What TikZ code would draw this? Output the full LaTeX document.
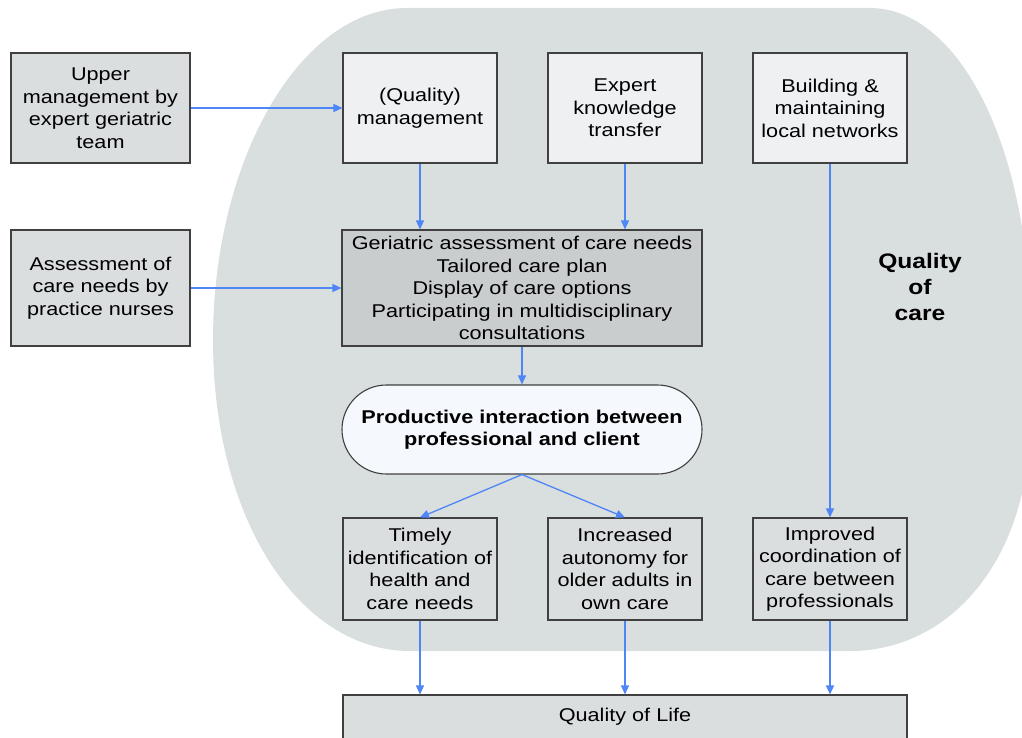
\documentclass[tikz,border=0pt]{standalone}
\usepackage{fontspec}
\setmainfont{Liberation Sans}[FakeStretch=1.17]
\usetikzlibrary{arrows.meta}

\definecolor{blobgray}{HTML}{D9DEDF}
\definecolor{lightbox}{HTML}{EEF0F2}
\definecolor{midbox}{HTML}{DADEDF}
\definecolor{darkbox}{HTML}{C9CDCE}
\definecolor{pillfill}{HTML}{F5F8FC}
\definecolor{arrowblue}{HTML}{4F86F7}
\definecolor{edgegray}{HTML}{404040}

\tikzset{
  base/.style={draw=edgegray, line width=1.1pt, inner sep=0pt, align=center,
    font=\fontsize{18.5}{22.5}\selectfont},
  topbox/.style={base, fill=lightbox, minimum width=154pt, minimum height=110pt},
  sidebox/.style={base, fill=midbox, minimum width=179pt},
  outbox/.style={base, fill=midbox, minimum width=154pt, minimum height=102pt},
  flow/.style={draw=arrowblue, line width=1.3pt, -{Triangle[length=9pt,width=8pt]}},
}

\begin{document}
\begin{tikzpicture}[x=1pt,y=-1pt]
\useasboundingbox (0,0) rectangle (1022,738);

% quality-of-care region
\fill[blobgray] (213,340)
  .. controls (213,160) and (300,8) .. (407,8)
  -- (870,8)
  .. controls (960,8) and (1030,150) .. (1030,330)
  -- (1030,420)
  .. controls (1030,560) and (950,651) .. (850,651)
  -- (410,651)
  .. controls (300,651) and (213,520) .. (213,340) -- cycle;

% inputs
\node[sidebox, minimum height=110pt] (upper) at (100.5,108)
  {Upper\\management by\\expert geriatric\\team};
\node[sidebox, minimum height=116pt] (nurses) at (100.5,288)
  {Assessment of\\care needs by\\practice nurses};

% top row
\node[topbox] (qm) at (420,108) {(Quality)\\management};
\node[topbox] (ekt) at (625,108) {Expert\\knowledge\\transfer};
\node[topbox] (net) at (830,108) {Building \&\\maintaining\\local networks};

% core activities
\node[base, fill=darkbox, minimum width=360pt, minimum height=116pt] (core) at (522,288)
  {Geriatric assessment of care needs\\Tailored care plan\\Display of care options\\Participating in multidisciplinary\\consultations};

\node[base, fill=pillfill, minimum width=360pt, minimum height=89pt, rounded corners=44.5pt,
  font=\bfseries\fontsize{18.5}{22.5}\selectfont] (pi) at (522,429.5)
  {Productive interaction between\\professional and client};

% outcomes
\node[outbox] (timely) at (420,569) {Timely\\identification of\\health and\\care needs};
\node[outbox] (auto) at (625,569) {Increased\\autonomy for\\older adults in\\own care};
\node[outbox] (coord) at (830,569) {Improved\\coordination of\\care between\\professionals};

\node[base, fill=midbox, minimum width=564pt, minimum height=44pt] (qol) at (625,717) {Quality of Life};

\node[align=center, font=\bfseries\fontsize{21}{26}\selectfont] (qoc) at (920,287) {Quality\\of\\care};

% connectors
\draw[flow] (upper.east) -- (qm.west);
\draw[flow] (nurses.east) -- (core.west);
\draw[flow] (qm.south) -- (qm.south |- core.north);
\draw[flow] (ekt.south) -- (ekt.south |- core.north);
\draw[flow] (core.south) -- (pi.north);
\draw[flow] (pi.south) -- (timely.north);
\draw[flow] (pi.south) -- (auto.north);
\draw[flow] (net.south) -- (coord.north);
\draw[flow] (timely.south) -- (timely.south |- qol.north);
\draw[flow] (auto.south) -- (auto.south |- qol.north);
\draw[flow] (coord.south) -- (coord.south |- qol.north);
\end{tikzpicture}
\end{document}
